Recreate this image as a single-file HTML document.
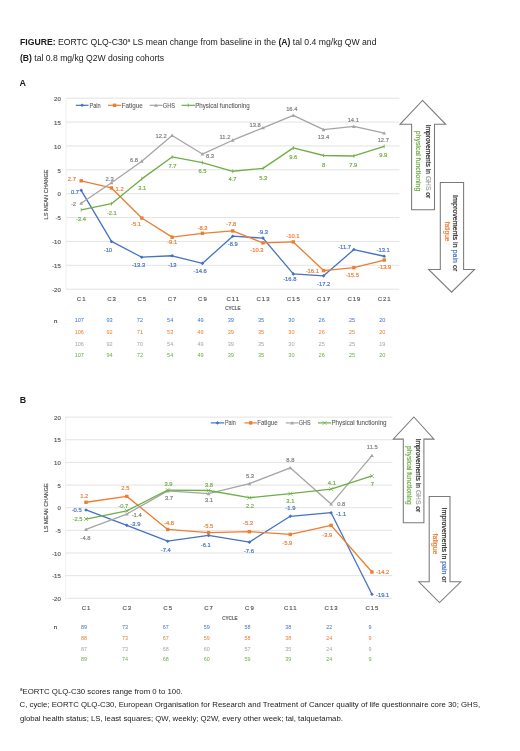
<!DOCTYPE html>
<html><head><meta charset="utf-8"><style>
html,body{margin:0;padding:0;background:#fff;}
body{width:520px;height:751px;overflow:hidden;position:relative;font-family:"Liberation Sans", sans-serif;}
svg{position:absolute;left:0;top:0;filter:blur(0.3px);}
svg text{font-family:"Liberation Sans", sans-serif;}
.t{position:absolute;left:20px;white-space:nowrap;color:#1a1a1a;font-family:"Liberation Sans", sans-serif;}
</style></head><body>
<svg width="520" height="751" viewBox="0 0 520 751">
<text x="20" y="45.4" font-size="8.7" fill="#1a1a1a" textLength="356.5" lengthAdjust="spacingAndGlyphs"><tspan font-weight="bold">FIGURE:</tspan> EORTC QLQ-C30<tspan font-size="5" dy="-3">a</tspan><tspan dy="3"> LS mean change from baseline in the </tspan><tspan font-weight="bold">(A)</tspan> tal 0.4 mg/kg QW and</text>
<text x="20" y="60.8" font-size="8.7" fill="#1a1a1a" textLength="144" lengthAdjust="spacingAndGlyphs"><tspan font-weight="bold">(B)</tspan> tal 0.8 mg/kg Q2W dosing cohorts</text>
<text x="19.5" y="86" font-size="8.9" font-weight="bold" fill="#1a1a1a">A</text>
<text x="19.7" y="402.8" font-size="8.9" font-weight="bold" fill="#1a1a1a">B</text>
<line x1="66.05" y1="289.20" x2="399.35" y2="289.20" stroke="#D9D9D9" stroke-width="0.75"/>
<text x="60.80" y="289.90" font-size="6.0" fill="#595959" stroke="#595959" stroke-width="0.18" text-anchor="end" font-weight="normal" dominant-baseline="central" >-20</text>
<line x1="66.05" y1="265.32" x2="399.35" y2="265.32" stroke="#D9D9D9" stroke-width="0.75"/>
<text x="60.80" y="266.02" font-size="6.0" fill="#595959" stroke="#595959" stroke-width="0.18" text-anchor="end" font-weight="normal" dominant-baseline="central" >-15</text>
<line x1="66.05" y1="241.45" x2="399.35" y2="241.45" stroke="#D9D9D9" stroke-width="0.75"/>
<text x="60.80" y="242.15" font-size="6.0" fill="#595959" stroke="#595959" stroke-width="0.18" text-anchor="end" font-weight="normal" dominant-baseline="central" >-10</text>
<line x1="66.05" y1="217.57" x2="399.35" y2="217.57" stroke="#D9D9D9" stroke-width="0.75"/>
<text x="60.80" y="218.27" font-size="6.0" fill="#595959" stroke="#595959" stroke-width="0.18" text-anchor="end" font-weight="normal" dominant-baseline="central" >-5</text>
<line x1="66.05" y1="193.70" x2="399.35" y2="193.70" stroke="#D9D9D9" stroke-width="0.75"/>
<text x="60.80" y="194.40" font-size="6.0" fill="#595959" stroke="#595959" stroke-width="0.18" text-anchor="end" font-weight="normal" dominant-baseline="central" >0</text>
<line x1="66.05" y1="169.82" x2="399.35" y2="169.82" stroke="#D9D9D9" stroke-width="0.75"/>
<text x="60.80" y="170.52" font-size="6.0" fill="#595959" stroke="#595959" stroke-width="0.18" text-anchor="end" font-weight="normal" dominant-baseline="central" >5</text>
<line x1="66.05" y1="145.95" x2="399.35" y2="145.95" stroke="#D9D9D9" stroke-width="0.75"/>
<text x="60.80" y="146.65" font-size="6.0" fill="#595959" stroke="#595959" stroke-width="0.18" text-anchor="end" font-weight="normal" dominant-baseline="central" >10</text>
<line x1="66.05" y1="122.07" x2="399.35" y2="122.07" stroke="#D9D9D9" stroke-width="0.75"/>
<text x="60.80" y="122.77" font-size="6.0" fill="#595959" stroke="#595959" stroke-width="0.18" text-anchor="end" font-weight="normal" dominant-baseline="central" >15</text>
<line x1="66.05" y1="98.20" x2="399.35" y2="98.20" stroke="#D9D9D9" stroke-width="0.75"/>
<text x="60.80" y="98.90" font-size="6.0" fill="#595959" stroke="#595959" stroke-width="0.18" text-anchor="end" font-weight="normal" dominant-baseline="central" >20</text>
<line x1="66.05" y1="98.20" x2="66.05" y2="289.20" stroke="#EBEBEB" stroke-width="0.75"/>
<text x="81.70" y="299.00" font-size="6.0" fill="#595959" stroke="#595959" stroke-width="0.18" text-anchor="middle" font-weight="normal" dominant-baseline="central" letter-spacing="1.0">C1</text>
<text x="112.00" y="299.00" font-size="6.0" fill="#595959" stroke="#595959" stroke-width="0.18" text-anchor="middle" font-weight="normal" dominant-baseline="central" letter-spacing="1.0">C3</text>
<text x="142.30" y="299.00" font-size="6.0" fill="#595959" stroke="#595959" stroke-width="0.18" text-anchor="middle" font-weight="normal" dominant-baseline="central" letter-spacing="1.0">C5</text>
<text x="172.60" y="299.00" font-size="6.0" fill="#595959" stroke="#595959" stroke-width="0.18" text-anchor="middle" font-weight="normal" dominant-baseline="central" letter-spacing="1.0">C7</text>
<text x="202.90" y="299.00" font-size="6.0" fill="#595959" stroke="#595959" stroke-width="0.18" text-anchor="middle" font-weight="normal" dominant-baseline="central" letter-spacing="1.0">C9</text>
<text x="233.20" y="299.00" font-size="6.0" fill="#595959" stroke="#595959" stroke-width="0.18" text-anchor="middle" font-weight="normal" dominant-baseline="central" letter-spacing="1.0">C11</text>
<text x="263.50" y="299.00" font-size="6.0" fill="#595959" stroke="#595959" stroke-width="0.18" text-anchor="middle" font-weight="normal" dominant-baseline="central" letter-spacing="1.0">C13</text>
<text x="293.80" y="299.00" font-size="6.0" fill="#595959" stroke="#595959" stroke-width="0.18" text-anchor="middle" font-weight="normal" dominant-baseline="central" letter-spacing="1.0">C15</text>
<text x="324.10" y="299.00" font-size="6.0" fill="#595959" stroke="#595959" stroke-width="0.18" text-anchor="middle" font-weight="normal" dominant-baseline="central" letter-spacing="1.0">C17</text>
<text x="354.40" y="299.00" font-size="6.0" fill="#595959" stroke="#595959" stroke-width="0.18" text-anchor="middle" font-weight="normal" dominant-baseline="central" letter-spacing="1.0">C19</text>
<text x="384.70" y="299.00" font-size="6.0" fill="#595959" stroke="#595959" stroke-width="0.18" text-anchor="middle" font-weight="normal" dominant-baseline="central" letter-spacing="1.0">C21</text>
<text x="232.80" y="308.80" font-size="4.6" fill="#595959" stroke="#595959" stroke-width="0.18" text-anchor="middle" font-weight="normal" dominant-baseline="central" >CYCLE</text>
<text x="0" y="0" font-size="6.2" fill="#595959" stroke="#595959" stroke-width="0.18" text-anchor="middle" dominant-baseline="central" textLength="50" lengthAdjust="spacingAndGlyphs" transform="translate(45.6,194.4) rotate(-90)">LS MEAN CHANGE</text>
<polyline points="81.20,190.36 111.50,241.45 141.80,257.21 172.10,255.77 202.40,263.41 232.70,236.20 263.00,238.11 293.30,273.92 323.60,275.83 353.90,249.57 384.20,256.25" fill="none" stroke="#4472C4" stroke-width="1.3" stroke-linejoin="round"/>
<path d="M81.20,188.56 L83.00,190.36 L81.20,192.16 L79.40,190.36Z" fill="#4472C4"/>
<path d="M111.50,239.65 L113.30,241.45 L111.50,243.25 L109.70,241.45Z" fill="#4472C4"/>
<path d="M141.80,255.41 L143.60,257.21 L141.80,259.01 L140.00,257.21Z" fill="#4472C4"/>
<path d="M172.10,253.97 L173.90,255.77 L172.10,257.57 L170.30,255.77Z" fill="#4472C4"/>
<path d="M202.40,261.61 L204.20,263.41 L202.40,265.21 L200.60,263.41Z" fill="#4472C4"/>
<path d="M232.70,234.40 L234.50,236.20 L232.70,238.00 L230.90,236.20Z" fill="#4472C4"/>
<path d="M263.00,236.31 L264.80,238.11 L263.00,239.91 L261.20,238.11Z" fill="#4472C4"/>
<path d="M293.30,272.12 L295.10,273.92 L293.30,275.72 L291.50,273.92Z" fill="#4472C4"/>
<path d="M323.60,274.03 L325.40,275.83 L323.60,277.63 L321.80,275.83Z" fill="#4472C4"/>
<path d="M353.90,247.77 L355.70,249.57 L353.90,251.37 L352.10,249.57Z" fill="#4472C4"/>
<path d="M384.20,254.45 L386.00,256.25 L384.20,258.05 L382.40,256.25Z" fill="#4472C4"/>
<text x="75.00" y="191.50" font-size="5.8" fill="#4472C4" stroke="#4472C4" stroke-width="0.18" text-anchor="middle" font-weight="normal" dominant-baseline="central" >0.7</text>
<text x="107.90" y="249.50" font-size="5.8" fill="#4472C4" stroke="#4472C4" stroke-width="0.18" text-anchor="middle" font-weight="normal" dominant-baseline="central" >-10</text>
<text x="138.50" y="265.40" font-size="5.8" fill="#4472C4" stroke="#4472C4" stroke-width="0.18" text-anchor="middle" font-weight="normal" dominant-baseline="central" >-13.3</text>
<text x="172.20" y="264.50" font-size="5.8" fill="#4472C4" stroke="#4472C4" stroke-width="0.18" text-anchor="middle" font-weight="normal" dominant-baseline="central" >-13</text>
<text x="200.20" y="271.20" font-size="5.8" fill="#4472C4" stroke="#4472C4" stroke-width="0.18" text-anchor="middle" font-weight="normal" dominant-baseline="central" >-14.6</text>
<text x="232.80" y="244.30" font-size="5.8" fill="#4472C4" stroke="#4472C4" stroke-width="0.18" text-anchor="middle" font-weight="normal" dominant-baseline="central" >-8.9</text>
<text x="263.10" y="232.00" font-size="5.8" fill="#4472C4" stroke="#4472C4" stroke-width="0.18" text-anchor="middle" font-weight="normal" dominant-baseline="central" >-9.3</text>
<text x="289.80" y="278.80" font-size="5.8" fill="#4472C4" stroke="#4472C4" stroke-width="0.18" text-anchor="middle" font-weight="normal" dominant-baseline="central" >-16.8</text>
<text x="323.70" y="283.70" font-size="5.8" fill="#4472C4" stroke="#4472C4" stroke-width="0.18" text-anchor="middle" font-weight="normal" dominant-baseline="central" >-17.2</text>
<text x="344.60" y="247.40" font-size="5.8" fill="#4472C4" stroke="#4472C4" stroke-width="0.18" text-anchor="middle" font-weight="normal" dominant-baseline="central" >-11.7</text>
<text x="383.10" y="249.90" font-size="5.8" fill="#4472C4" stroke="#4472C4" stroke-width="0.18" text-anchor="middle" font-weight="normal" dominant-baseline="central" >-13.1</text>
<polyline points="81.20,180.81 111.50,187.97 141.80,218.05 172.10,237.15 202.40,233.33 232.70,230.94 263.00,242.88 293.30,241.93 323.60,270.58 353.90,267.71 384.20,260.07" fill="none" stroke="#ED7D31" stroke-width="1.3" stroke-linejoin="round"/>
<rect x="79.50" y="179.11" width="3.4" height="3.4" fill="#ED7D31"/>
<rect x="109.80" y="186.27" width="3.4" height="3.4" fill="#ED7D31"/>
<rect x="140.10" y="216.35" width="3.4" height="3.4" fill="#ED7D31"/>
<rect x="170.40" y="235.45" width="3.4" height="3.4" fill="#ED7D31"/>
<rect x="200.70" y="231.63" width="3.4" height="3.4" fill="#ED7D31"/>
<rect x="231.00" y="229.25" width="3.4" height="3.4" fill="#ED7D31"/>
<rect x="261.30" y="241.18" width="3.4" height="3.4" fill="#ED7D31"/>
<rect x="291.60" y="240.23" width="3.4" height="3.4" fill="#ED7D31"/>
<rect x="321.90" y="268.88" width="3.4" height="3.4" fill="#ED7D31"/>
<rect x="352.20" y="266.01" width="3.4" height="3.4" fill="#ED7D31"/>
<rect x="382.50" y="258.37" width="3.4" height="3.4" fill="#ED7D31"/>
<text x="71.90" y="178.80" font-size="5.8" fill="#ED7D31" stroke="#ED7D31" stroke-width="0.18" text-anchor="middle" font-weight="normal" dominant-baseline="central" >2.7</text>
<text x="119.60" y="189.00" font-size="5.8" fill="#ED7D31" stroke="#ED7D31" stroke-width="0.18" text-anchor="middle" font-weight="normal" dominant-baseline="central" >1.2</text>
<text x="136.10" y="223.50" font-size="5.8" fill="#ED7D31" stroke="#ED7D31" stroke-width="0.18" text-anchor="middle" font-weight="normal" dominant-baseline="central" >-5.1</text>
<text x="172.20" y="242.30" font-size="5.8" fill="#ED7D31" stroke="#ED7D31" stroke-width="0.18" text-anchor="middle" font-weight="normal" dominant-baseline="central" >-9.1</text>
<text x="202.50" y="227.90" font-size="5.8" fill="#ED7D31" stroke="#ED7D31" stroke-width="0.18" text-anchor="middle" font-weight="normal" dominant-baseline="central" >-8.3</text>
<text x="231.30" y="224.20" font-size="5.8" fill="#ED7D31" stroke="#ED7D31" stroke-width="0.18" text-anchor="middle" font-weight="normal" dominant-baseline="central" >-7.8</text>
<text x="256.90" y="249.90" font-size="5.8" fill="#ED7D31" stroke="#ED7D31" stroke-width="0.18" text-anchor="middle" font-weight="normal" dominant-baseline="central" >-10.3</text>
<text x="292.90" y="235.70" font-size="5.8" fill="#ED7D31" stroke="#ED7D31" stroke-width="0.18" text-anchor="middle" font-weight="normal" dominant-baseline="central" >-10.1</text>
<text x="312.30" y="271.10" font-size="5.8" fill="#ED7D31" stroke="#ED7D31" stroke-width="0.18" text-anchor="middle" font-weight="normal" dominant-baseline="central" >-16.1</text>
<text x="352.30" y="275.10" font-size="5.8" fill="#ED7D31" stroke="#ED7D31" stroke-width="0.18" text-anchor="middle" font-weight="normal" dominant-baseline="central" >-15.5</text>
<text x="384.60" y="267.40" font-size="5.8" fill="#ED7D31" stroke="#ED7D31" stroke-width="0.18" text-anchor="middle" font-weight="normal" dominant-baseline="central" >-13.9</text>
<polyline points="81.20,203.25 111.50,182.72 141.80,161.23 172.10,135.44 202.40,154.07 232.70,140.22 263.00,127.80 293.30,115.39 323.60,129.71 353.90,126.37 384.20,133.06" fill="none" stroke="#A5A5A5" stroke-width="1.3" stroke-linejoin="round"/>
<path d="M81.20,201.35 L83.10,204.77 L79.30,204.77Z" fill="#A5A5A5"/>
<path d="M111.50,180.82 L113.40,184.24 L109.60,184.24Z" fill="#A5A5A5"/>
<path d="M141.80,159.33 L143.70,162.75 L139.90,162.75Z" fill="#A5A5A5"/>
<path d="M172.10,133.54 L174.00,136.97 L170.20,136.97Z" fill="#A5A5A5"/>
<path d="M202.40,152.17 L204.30,155.59 L200.50,155.59Z" fill="#A5A5A5"/>
<path d="M232.70,138.32 L234.60,141.74 L230.80,141.74Z" fill="#A5A5A5"/>
<path d="M263.00,125.90 L264.90,129.32 L261.10,129.32Z" fill="#A5A5A5"/>
<path d="M293.30,113.49 L295.20,116.91 L291.40,116.91Z" fill="#A5A5A5"/>
<path d="M323.60,127.81 L325.50,131.23 L321.70,131.23Z" fill="#A5A5A5"/>
<path d="M353.90,124.47 L355.80,127.89 L352.00,127.89Z" fill="#A5A5A5"/>
<path d="M384.20,131.16 L386.10,134.58 L382.30,134.58Z" fill="#A5A5A5"/>
<text x="73.50" y="204.00" font-size="5.8" fill="#7F7F7F" stroke="#7F7F7F" stroke-width="0.18" text-anchor="middle" font-weight="normal" dominant-baseline="central" >-2</text>
<text x="109.60" y="178.80" font-size="5.8" fill="#7F7F7F" stroke="#7F7F7F" stroke-width="0.18" text-anchor="middle" font-weight="normal" dominant-baseline="central" >2.3</text>
<text x="134.00" y="159.50" font-size="5.8" fill="#7F7F7F" stroke="#7F7F7F" stroke-width="0.18" text-anchor="middle" font-weight="normal" dominant-baseline="central" >6.8</text>
<text x="161.20" y="136.00" font-size="5.8" fill="#7F7F7F" stroke="#7F7F7F" stroke-width="0.18" text-anchor="middle" font-weight="normal" dominant-baseline="central" >12.2</text>
<text x="210.00" y="156.20" font-size="5.8" fill="#7F7F7F" stroke="#7F7F7F" stroke-width="0.18" text-anchor="middle" font-weight="normal" dominant-baseline="central" >8.3</text>
<text x="225.00" y="136.70" font-size="5.8" fill="#7F7F7F" stroke="#7F7F7F" stroke-width="0.18" text-anchor="middle" font-weight="normal" dominant-baseline="central" >11.2</text>
<text x="255.20" y="125.00" font-size="5.8" fill="#7F7F7F" stroke="#7F7F7F" stroke-width="0.18" text-anchor="middle" font-weight="normal" dominant-baseline="central" >13.8</text>
<text x="291.80" y="108.60" font-size="5.8" fill="#7F7F7F" stroke="#7F7F7F" stroke-width="0.18" text-anchor="middle" font-weight="normal" dominant-baseline="central" >16.4</text>
<text x="323.50" y="137.40" font-size="5.8" fill="#7F7F7F" stroke="#7F7F7F" stroke-width="0.18" text-anchor="middle" font-weight="normal" dominant-baseline="central" >13.4</text>
<text x="353.30" y="119.50" font-size="5.8" fill="#7F7F7F" stroke="#7F7F7F" stroke-width="0.18" text-anchor="middle" font-weight="normal" dominant-baseline="central" >14.1</text>
<text x="383.30" y="140.30" font-size="5.8" fill="#7F7F7F" stroke="#7F7F7F" stroke-width="0.18" text-anchor="middle" font-weight="normal" dominant-baseline="central" >12.7</text>
<polyline points="81.20,209.94 111.50,203.73 141.80,178.90 172.10,156.93 202.40,162.66 232.70,171.26 263.00,168.39 293.30,147.86 323.60,155.50 353.90,155.98 384.20,146.43" fill="none" stroke="#70AD47" stroke-width="1.3" stroke-linejoin="round"/>
<path d="M81.20,208.13 V211.74" stroke="#70AD47" stroke-width="0.8"/>
<path d="M111.50,201.93 V205.53" stroke="#70AD47" stroke-width="0.8"/>
<path d="M141.80,177.10 V180.70" stroke="#70AD47" stroke-width="0.8"/>
<path d="M172.10,155.13 V158.73" stroke="#70AD47" stroke-width="0.8"/>
<path d="M202.40,160.86 V164.46" stroke="#70AD47" stroke-width="0.8"/>
<path d="M232.70,169.46 V173.06" stroke="#70AD47" stroke-width="0.8"/>
<path d="M263.00,166.59 V170.19" stroke="#70AD47" stroke-width="0.8"/>
<path d="M293.30,146.06 V149.66" stroke="#70AD47" stroke-width="0.8"/>
<path d="M323.60,153.70 V157.30" stroke="#70AD47" stroke-width="0.8"/>
<path d="M353.90,154.18 V157.78" stroke="#70AD47" stroke-width="0.8"/>
<path d="M384.20,144.63 V148.23" stroke="#70AD47" stroke-width="0.8"/>
<text x="80.90" y="219.00" font-size="5.8" fill="#70AD47" stroke="#70AD47" stroke-width="0.18" text-anchor="middle" font-weight="normal" dominant-baseline="central" >-3.4</text>
<text x="111.80" y="213.10" font-size="5.8" fill="#70AD47" stroke="#70AD47" stroke-width="0.18" text-anchor="middle" font-weight="normal" dominant-baseline="central" >-2.1</text>
<text x="142.30" y="188.40" font-size="5.8" fill="#70AD47" stroke="#70AD47" stroke-width="0.18" text-anchor="middle" font-weight="normal" dominant-baseline="central" >3.1</text>
<text x="172.50" y="166.00" font-size="5.8" fill="#70AD47" stroke="#70AD47" stroke-width="0.18" text-anchor="middle" font-weight="normal" dominant-baseline="central" >7.7</text>
<text x="202.50" y="171.20" font-size="5.8" fill="#70AD47" stroke="#70AD47" stroke-width="0.18" text-anchor="middle" font-weight="normal" dominant-baseline="central" >6.5</text>
<text x="232.50" y="179.20" font-size="5.8" fill="#70AD47" stroke="#70AD47" stroke-width="0.18" text-anchor="middle" font-weight="normal" dominant-baseline="central" >4.7</text>
<text x="263.20" y="177.50" font-size="5.8" fill="#70AD47" stroke="#70AD47" stroke-width="0.18" text-anchor="middle" font-weight="normal" dominant-baseline="central" >5.3</text>
<text x="293.30" y="157.00" font-size="5.8" fill="#70AD47" stroke="#70AD47" stroke-width="0.18" text-anchor="middle" font-weight="normal" dominant-baseline="central" >9.6</text>
<text x="323.50" y="164.50" font-size="5.8" fill="#70AD47" stroke="#70AD47" stroke-width="0.18" text-anchor="middle" font-weight="normal" dominant-baseline="central" >8</text>
<text x="353.30" y="164.50" font-size="5.8" fill="#70AD47" stroke="#70AD47" stroke-width="0.18" text-anchor="middle" font-weight="normal" dominant-baseline="central" >7.9</text>
<text x="383.30" y="155.30" font-size="5.8" fill="#70AD47" stroke="#70AD47" stroke-width="0.18" text-anchor="middle" font-weight="normal" dominant-baseline="central" >9.9</text>
<line x1="75.8" y1="105.3" x2="88.5" y2="105.3" stroke="#4472C4" stroke-width="1.2"/>
<path d="M82.15,103.50 L83.95,105.30 L82.15,107.10 L80.35,105.30Z" fill="#4472C4"/>
<text x="89.4" y="105.3" font-size="6.6" fill="#595959" stroke="#595959" stroke-width="0.08" dominant-baseline="central" textLength="11.3" lengthAdjust="spacingAndGlyphs">Pain</text>
<line x1="108" y1="105.3" x2="121.3" y2="105.3" stroke="#ED7D31" stroke-width="1.2"/>
<rect x="112.95" y="103.60" width="3.4" height="3.4" fill="#ED7D31"/>
<text x="121.7" y="105.3" font-size="6.6" fill="#595959" stroke="#595959" stroke-width="0.08" dominant-baseline="central" textLength="21.0" lengthAdjust="spacingAndGlyphs">Fatigue</text>
<line x1="149.7" y1="105.3" x2="162.4" y2="105.3" stroke="#A5A5A5" stroke-width="1.2"/>
<path d="M156.05,103.40 L157.95,106.82 L154.15,106.82Z" fill="#A5A5A5"/>
<text x="162.8" y="105.3" font-size="6.6" fill="#595959" stroke="#595959" stroke-width="0.08" dominant-baseline="central" textLength="12.2" lengthAdjust="spacingAndGlyphs">GHS</text>
<line x1="181.5" y1="105.3" x2="195" y2="105.3" stroke="#70AD47" stroke-width="1.2"/>
<path d="M188.25,103.50 V107.10" stroke="#70AD47" stroke-width="0.8"/>
<text x="195.2" y="105.3" font-size="6.6" fill="#595959" stroke="#595959" stroke-width="0.08" dominant-baseline="central" textLength="54.5" lengthAdjust="spacingAndGlyphs">Physical functioning</text>
<text x="55.80" y="320.20" font-size="6.1" fill="#404040" stroke="#404040" stroke-width="0.18" text-anchor="middle" font-weight="normal" dominant-baseline="central" >n</text>
<text x="79.30" y="320.20" font-size="5.6" fill="#4472C4" stroke="#4472C4" stroke-width="0" text-anchor="middle" font-weight="normal" dominant-baseline="central" >107</text>
<text x="109.60" y="320.20" font-size="5.6" fill="#4472C4" stroke="#4472C4" stroke-width="0" text-anchor="middle" font-weight="normal" dominant-baseline="central" >93</text>
<text x="139.90" y="320.20" font-size="5.6" fill="#4472C4" stroke="#4472C4" stroke-width="0" text-anchor="middle" font-weight="normal" dominant-baseline="central" >72</text>
<text x="170.20" y="320.20" font-size="5.6" fill="#4472C4" stroke="#4472C4" stroke-width="0" text-anchor="middle" font-weight="normal" dominant-baseline="central" >54</text>
<text x="200.50" y="320.20" font-size="5.6" fill="#4472C4" stroke="#4472C4" stroke-width="0" text-anchor="middle" font-weight="normal" dominant-baseline="central" >49</text>
<text x="230.80" y="320.20" font-size="5.6" fill="#4472C4" stroke="#4472C4" stroke-width="0" text-anchor="middle" font-weight="normal" dominant-baseline="central" >39</text>
<text x="261.10" y="320.20" font-size="5.6" fill="#4472C4" stroke="#4472C4" stroke-width="0" text-anchor="middle" font-weight="normal" dominant-baseline="central" >35</text>
<text x="291.40" y="320.20" font-size="5.6" fill="#4472C4" stroke="#4472C4" stroke-width="0" text-anchor="middle" font-weight="normal" dominant-baseline="central" >30</text>
<text x="321.70" y="320.20" font-size="5.6" fill="#4472C4" stroke="#4472C4" stroke-width="0" text-anchor="middle" font-weight="normal" dominant-baseline="central" >26</text>
<text x="352.00" y="320.20" font-size="5.6" fill="#4472C4" stroke="#4472C4" stroke-width="0" text-anchor="middle" font-weight="normal" dominant-baseline="central" >25</text>
<text x="382.30" y="320.20" font-size="5.6" fill="#4472C4" stroke="#4472C4" stroke-width="0" text-anchor="middle" font-weight="normal" dominant-baseline="central" >20</text>
<text x="79.30" y="331.80" font-size="5.6" fill="#ED7D31" stroke="#ED7D31" stroke-width="0" text-anchor="middle" font-weight="normal" dominant-baseline="central" >106</text>
<text x="109.60" y="331.80" font-size="5.6" fill="#ED7D31" stroke="#ED7D31" stroke-width="0" text-anchor="middle" font-weight="normal" dominant-baseline="central" >92</text>
<text x="139.90" y="331.80" font-size="5.6" fill="#ED7D31" stroke="#ED7D31" stroke-width="0" text-anchor="middle" font-weight="normal" dominant-baseline="central" >71</text>
<text x="170.20" y="331.80" font-size="5.6" fill="#ED7D31" stroke="#ED7D31" stroke-width="0" text-anchor="middle" font-weight="normal" dominant-baseline="central" >53</text>
<text x="200.50" y="331.80" font-size="5.6" fill="#ED7D31" stroke="#ED7D31" stroke-width="0" text-anchor="middle" font-weight="normal" dominant-baseline="central" >49</text>
<text x="230.80" y="331.80" font-size="5.6" fill="#ED7D31" stroke="#ED7D31" stroke-width="0" text-anchor="middle" font-weight="normal" dominant-baseline="central" >39</text>
<text x="261.10" y="331.80" font-size="5.6" fill="#ED7D31" stroke="#ED7D31" stroke-width="0" text-anchor="middle" font-weight="normal" dominant-baseline="central" >35</text>
<text x="291.40" y="331.80" font-size="5.6" fill="#ED7D31" stroke="#ED7D31" stroke-width="0" text-anchor="middle" font-weight="normal" dominant-baseline="central" >30</text>
<text x="321.70" y="331.80" font-size="5.6" fill="#ED7D31" stroke="#ED7D31" stroke-width="0" text-anchor="middle" font-weight="normal" dominant-baseline="central" >26</text>
<text x="352.00" y="331.80" font-size="5.6" fill="#ED7D31" stroke="#ED7D31" stroke-width="0" text-anchor="middle" font-weight="normal" dominant-baseline="central" >25</text>
<text x="382.30" y="331.80" font-size="5.6" fill="#ED7D31" stroke="#ED7D31" stroke-width="0" text-anchor="middle" font-weight="normal" dominant-baseline="central" >20</text>
<text x="79.30" y="343.50" font-size="5.6" fill="#A5A5A5" stroke="#A5A5A5" stroke-width="0" text-anchor="middle" font-weight="normal" dominant-baseline="central" >106</text>
<text x="109.60" y="343.50" font-size="5.6" fill="#A5A5A5" stroke="#A5A5A5" stroke-width="0" text-anchor="middle" font-weight="normal" dominant-baseline="central" >92</text>
<text x="139.90" y="343.50" font-size="5.6" fill="#A5A5A5" stroke="#A5A5A5" stroke-width="0" text-anchor="middle" font-weight="normal" dominant-baseline="central" >70</text>
<text x="170.20" y="343.50" font-size="5.6" fill="#A5A5A5" stroke="#A5A5A5" stroke-width="0" text-anchor="middle" font-weight="normal" dominant-baseline="central" >54</text>
<text x="200.50" y="343.50" font-size="5.6" fill="#A5A5A5" stroke="#A5A5A5" stroke-width="0" text-anchor="middle" font-weight="normal" dominant-baseline="central" >49</text>
<text x="230.80" y="343.50" font-size="5.6" fill="#A5A5A5" stroke="#A5A5A5" stroke-width="0" text-anchor="middle" font-weight="normal" dominant-baseline="central" >39</text>
<text x="261.10" y="343.50" font-size="5.6" fill="#A5A5A5" stroke="#A5A5A5" stroke-width="0" text-anchor="middle" font-weight="normal" dominant-baseline="central" >35</text>
<text x="291.40" y="343.50" font-size="5.6" fill="#A5A5A5" stroke="#A5A5A5" stroke-width="0" text-anchor="middle" font-weight="normal" dominant-baseline="central" >30</text>
<text x="321.70" y="343.50" font-size="5.6" fill="#A5A5A5" stroke="#A5A5A5" stroke-width="0" text-anchor="middle" font-weight="normal" dominant-baseline="central" >25</text>
<text x="352.00" y="343.50" font-size="5.6" fill="#A5A5A5" stroke="#A5A5A5" stroke-width="0" text-anchor="middle" font-weight="normal" dominant-baseline="central" >25</text>
<text x="382.30" y="343.50" font-size="5.6" fill="#A5A5A5" stroke="#A5A5A5" stroke-width="0" text-anchor="middle" font-weight="normal" dominant-baseline="central" >19</text>
<text x="79.30" y="355.10" font-size="5.6" fill="#70AD47" stroke="#70AD47" stroke-width="0" text-anchor="middle" font-weight="normal" dominant-baseline="central" >107</text>
<text x="109.60" y="355.10" font-size="5.6" fill="#70AD47" stroke="#70AD47" stroke-width="0" text-anchor="middle" font-weight="normal" dominant-baseline="central" >94</text>
<text x="139.90" y="355.10" font-size="5.6" fill="#70AD47" stroke="#70AD47" stroke-width="0" text-anchor="middle" font-weight="normal" dominant-baseline="central" >72</text>
<text x="170.20" y="355.10" font-size="5.6" fill="#70AD47" stroke="#70AD47" stroke-width="0" text-anchor="middle" font-weight="normal" dominant-baseline="central" >54</text>
<text x="200.50" y="355.10" font-size="5.6" fill="#70AD47" stroke="#70AD47" stroke-width="0" text-anchor="middle" font-weight="normal" dominant-baseline="central" >49</text>
<text x="230.80" y="355.10" font-size="5.6" fill="#70AD47" stroke="#70AD47" stroke-width="0" text-anchor="middle" font-weight="normal" dominant-baseline="central" >39</text>
<text x="261.10" y="355.10" font-size="5.6" fill="#70AD47" stroke="#70AD47" stroke-width="0" text-anchor="middle" font-weight="normal" dominant-baseline="central" >35</text>
<text x="291.40" y="355.10" font-size="5.6" fill="#70AD47" stroke="#70AD47" stroke-width="0" text-anchor="middle" font-weight="normal" dominant-baseline="central" >30</text>
<text x="321.70" y="355.10" font-size="5.6" fill="#70AD47" stroke="#70AD47" stroke-width="0" text-anchor="middle" font-weight="normal" dominant-baseline="central" >26</text>
<text x="352.00" y="355.10" font-size="5.6" fill="#70AD47" stroke="#70AD47" stroke-width="0" text-anchor="middle" font-weight="normal" dominant-baseline="central" >25</text>
<text x="382.30" y="355.10" font-size="5.6" fill="#70AD47" stroke="#70AD47" stroke-width="0" text-anchor="middle" font-weight="normal" dominant-baseline="central" >20</text>
<line x1="65.58" y1="598.30" x2="392.38" y2="598.30" stroke="#D9D9D9" stroke-width="0.75"/>
<text x="60.80" y="599.00" font-size="6.0" fill="#595959" stroke="#595959" stroke-width="0.18" text-anchor="end" font-weight="normal" dominant-baseline="central" >-20</text>
<line x1="65.58" y1="575.65" x2="392.38" y2="575.65" stroke="#D9D9D9" stroke-width="0.75"/>
<text x="60.80" y="576.35" font-size="6.0" fill="#595959" stroke="#595959" stroke-width="0.18" text-anchor="end" font-weight="normal" dominant-baseline="central" >-15</text>
<line x1="65.58" y1="553.00" x2="392.38" y2="553.00" stroke="#D9D9D9" stroke-width="0.75"/>
<text x="60.80" y="553.70" font-size="6.0" fill="#595959" stroke="#595959" stroke-width="0.18" text-anchor="end" font-weight="normal" dominant-baseline="central" >-10</text>
<line x1="65.58" y1="530.35" x2="392.38" y2="530.35" stroke="#D9D9D9" stroke-width="0.75"/>
<text x="60.80" y="531.05" font-size="6.0" fill="#595959" stroke="#595959" stroke-width="0.18" text-anchor="end" font-weight="normal" dominant-baseline="central" >-5</text>
<line x1="65.58" y1="507.70" x2="392.38" y2="507.70" stroke="#D9D9D9" stroke-width="0.75"/>
<text x="60.80" y="508.40" font-size="6.0" fill="#595959" stroke="#595959" stroke-width="0.18" text-anchor="end" font-weight="normal" dominant-baseline="central" >0</text>
<line x1="65.58" y1="485.05" x2="392.38" y2="485.05" stroke="#D9D9D9" stroke-width="0.75"/>
<text x="60.80" y="485.75" font-size="6.0" fill="#595959" stroke="#595959" stroke-width="0.18" text-anchor="end" font-weight="normal" dominant-baseline="central" >5</text>
<line x1="65.58" y1="462.40" x2="392.38" y2="462.40" stroke="#D9D9D9" stroke-width="0.75"/>
<text x="60.80" y="463.10" font-size="6.0" fill="#595959" stroke="#595959" stroke-width="0.18" text-anchor="end" font-weight="normal" dominant-baseline="central" >10</text>
<line x1="65.58" y1="439.75" x2="392.38" y2="439.75" stroke="#D9D9D9" stroke-width="0.75"/>
<text x="60.80" y="440.45" font-size="6.0" fill="#595959" stroke="#595959" stroke-width="0.18" text-anchor="end" font-weight="normal" dominant-baseline="central" >15</text>
<line x1="65.58" y1="417.10" x2="392.38" y2="417.10" stroke="#D9D9D9" stroke-width="0.75"/>
<text x="60.80" y="417.80" font-size="6.0" fill="#595959" stroke="#595959" stroke-width="0.18" text-anchor="end" font-weight="normal" dominant-baseline="central" >20</text>
<line x1="65.58" y1="417.10" x2="65.58" y2="598.30" stroke="#EBEBEB" stroke-width="0.75"/>
<text x="86.50" y="607.80" font-size="6.0" fill="#595959" stroke="#595959" stroke-width="0.18" text-anchor="middle" font-weight="normal" dominant-baseline="central" letter-spacing="1.0">C1</text>
<text x="127.35" y="607.80" font-size="6.0" fill="#595959" stroke="#595959" stroke-width="0.18" text-anchor="middle" font-weight="normal" dominant-baseline="central" letter-spacing="1.0">C3</text>
<text x="168.20" y="607.80" font-size="6.0" fill="#595959" stroke="#595959" stroke-width="0.18" text-anchor="middle" font-weight="normal" dominant-baseline="central" letter-spacing="1.0">C5</text>
<text x="209.05" y="607.80" font-size="6.0" fill="#595959" stroke="#595959" stroke-width="0.18" text-anchor="middle" font-weight="normal" dominant-baseline="central" letter-spacing="1.0">C7</text>
<text x="249.90" y="607.80" font-size="6.0" fill="#595959" stroke="#595959" stroke-width="0.18" text-anchor="middle" font-weight="normal" dominant-baseline="central" letter-spacing="1.0">C9</text>
<text x="290.75" y="607.80" font-size="6.0" fill="#595959" stroke="#595959" stroke-width="0.18" text-anchor="middle" font-weight="normal" dominant-baseline="central" letter-spacing="1.0">C11</text>
<text x="331.60" y="607.80" font-size="6.0" fill="#595959" stroke="#595959" stroke-width="0.18" text-anchor="middle" font-weight="normal" dominant-baseline="central" letter-spacing="1.0">C13</text>
<text x="372.45" y="607.80" font-size="6.0" fill="#595959" stroke="#595959" stroke-width="0.18" text-anchor="middle" font-weight="normal" dominant-baseline="central" letter-spacing="1.0">C15</text>
<text x="229.90" y="618.40" font-size="4.6" fill="#595959" stroke="#595959" stroke-width="0.18" text-anchor="middle" font-weight="normal" dominant-baseline="central" >CYCLE</text>
<text x="0" y="0" font-size="6.2" fill="#595959" stroke="#595959" stroke-width="0.18" text-anchor="middle" dominant-baseline="central" textLength="49" lengthAdjust="spacingAndGlyphs" transform="translate(45.3,507.8) rotate(-90)">LS MEAN CHANGE</text>
<polyline points="86.00,509.96 126.85,525.37 167.70,541.22 208.55,535.33 249.40,542.13 290.25,516.31 331.10,512.68 371.95,594.22" fill="none" stroke="#4472C4" stroke-width="1.3" stroke-linejoin="round"/>
<path d="M86.00,508.16 L87.80,509.96 L86.00,511.76 L84.20,509.96Z" fill="#4472C4"/>
<path d="M126.85,523.57 L128.65,525.37 L126.85,527.17 L125.05,525.37Z" fill="#4472C4"/>
<path d="M167.70,539.42 L169.50,541.22 L167.70,543.02 L165.90,541.22Z" fill="#4472C4"/>
<path d="M208.55,533.53 L210.35,535.33 L208.55,537.13 L206.75,535.33Z" fill="#4472C4"/>
<path d="M249.40,540.33 L251.20,542.13 L249.40,543.93 L247.60,542.13Z" fill="#4472C4"/>
<path d="M290.25,514.51 L292.05,516.31 L290.25,518.11 L288.45,516.31Z" fill="#4472C4"/>
<path d="M331.10,510.88 L332.90,512.68 L331.10,514.48 L329.30,512.68Z" fill="#4472C4"/>
<path d="M371.95,592.42 L373.75,594.22 L371.95,596.02 L370.15,594.22Z" fill="#4472C4"/>
<text x="76.70" y="509.50" font-size="5.8" fill="#4472C4" stroke="#4472C4" stroke-width="0.18" text-anchor="middle" font-weight="normal" dominant-baseline="central" >-0.5</text>
<text x="135.40" y="523.50" font-size="5.8" fill="#4472C4" stroke="#4472C4" stroke-width="0.18" text-anchor="middle" font-weight="normal" dominant-baseline="central" >-3.9</text>
<text x="165.80" y="550.00" font-size="5.8" fill="#4472C4" stroke="#4472C4" stroke-width="0.18" text-anchor="middle" font-weight="normal" dominant-baseline="central" >-7.4</text>
<text x="205.80" y="545.40" font-size="5.8" fill="#4472C4" stroke="#4472C4" stroke-width="0.18" text-anchor="middle" font-weight="normal" dominant-baseline="central" >-6.1</text>
<text x="248.90" y="550.80" font-size="5.8" fill="#4472C4" stroke="#4472C4" stroke-width="0.18" text-anchor="middle" font-weight="normal" dominant-baseline="central" >-7.6</text>
<text x="290.40" y="508.40" font-size="5.8" fill="#4472C4" stroke="#4472C4" stroke-width="0.18" text-anchor="middle" font-weight="normal" dominant-baseline="central" >-1.9</text>
<text x="341.20" y="513.90" font-size="5.8" fill="#4472C4" stroke="#4472C4" stroke-width="0.18" text-anchor="middle" font-weight="normal" dominant-baseline="central" >-1.1</text>
<text x="382.60" y="595.10" font-size="5.8" fill="#4472C4" stroke="#4472C4" stroke-width="0.18" text-anchor="middle" font-weight="normal" dominant-baseline="central" >-19.1</text>
<polyline points="86.00,502.26 126.85,496.38 167.70,529.44 208.55,532.62 249.40,531.71 290.25,534.43 331.10,525.37 371.95,572.03" fill="none" stroke="#ED7D31" stroke-width="1.3" stroke-linejoin="round"/>
<rect x="84.30" y="500.56" width="3.4" height="3.4" fill="#ED7D31"/>
<rect x="125.15" y="494.68" width="3.4" height="3.4" fill="#ED7D31"/>
<rect x="166.00" y="527.74" width="3.4" height="3.4" fill="#ED7D31"/>
<rect x="206.85" y="530.91" width="3.4" height="3.4" fill="#ED7D31"/>
<rect x="247.70" y="530.01" width="3.4" height="3.4" fill="#ED7D31"/>
<rect x="288.55" y="532.73" width="3.4" height="3.4" fill="#ED7D31"/>
<rect x="329.40" y="523.67" width="3.4" height="3.4" fill="#ED7D31"/>
<rect x="370.25" y="570.33" width="3.4" height="3.4" fill="#ED7D31"/>
<text x="84.20" y="495.80" font-size="5.8" fill="#ED7D31" stroke="#ED7D31" stroke-width="0.18" text-anchor="middle" font-weight="normal" dominant-baseline="central" >1.2</text>
<text x="125.40" y="488.00" font-size="5.8" fill="#ED7D31" stroke="#ED7D31" stroke-width="0.18" text-anchor="middle" font-weight="normal" dominant-baseline="central" >2.5</text>
<text x="169.00" y="523.00" font-size="5.8" fill="#ED7D31" stroke="#ED7D31" stroke-width="0.18" text-anchor="middle" font-weight="normal" dominant-baseline="central" >-4.8</text>
<text x="208.30" y="525.70" font-size="5.8" fill="#ED7D31" stroke="#ED7D31" stroke-width="0.18" text-anchor="middle" font-weight="normal" dominant-baseline="central" >-5.5</text>
<text x="248.00" y="523.30" font-size="5.8" fill="#ED7D31" stroke="#ED7D31" stroke-width="0.18" text-anchor="middle" font-weight="normal" dominant-baseline="central" >-5.3</text>
<text x="287.30" y="542.80" font-size="5.8" fill="#ED7D31" stroke="#ED7D31" stroke-width="0.18" text-anchor="middle" font-weight="normal" dominant-baseline="central" >-5.9</text>
<text x="327.30" y="535.10" font-size="5.8" fill="#ED7D31" stroke="#ED7D31" stroke-width="0.18" text-anchor="middle" font-weight="normal" dominant-baseline="central" >-3.9</text>
<text x="382.60" y="572.00" font-size="5.8" fill="#ED7D31" stroke="#ED7D31" stroke-width="0.18" text-anchor="middle" font-weight="normal" dominant-baseline="central" >-14.2</text>
<polyline points="86.00,529.44 126.85,514.04 167.70,490.94 208.55,493.66 249.40,483.69 290.25,467.84 331.10,504.08 371.95,455.60" fill="none" stroke="#A5A5A5" stroke-width="1.3" stroke-linejoin="round"/>
<path d="M86.00,527.54 L87.90,530.96 L84.10,530.96Z" fill="#A5A5A5"/>
<path d="M126.85,512.14 L128.75,515.56 L124.95,515.56Z" fill="#A5A5A5"/>
<path d="M167.70,489.04 L169.60,492.46 L165.80,492.46Z" fill="#A5A5A5"/>
<path d="M208.55,491.76 L210.45,495.18 L206.65,495.18Z" fill="#A5A5A5"/>
<path d="M249.40,481.79 L251.30,485.21 L247.50,485.21Z" fill="#A5A5A5"/>
<path d="M290.25,465.94 L292.15,469.36 L288.35,469.36Z" fill="#A5A5A5"/>
<path d="M331.10,502.18 L333.00,505.60 L329.20,505.60Z" fill="#A5A5A5"/>
<path d="M371.95,453.70 L373.85,457.12 L370.05,457.12Z" fill="#A5A5A5"/>
<text x="85.60" y="538.40" font-size="5.8" fill="#7F7F7F" stroke="#7F7F7F" stroke-width="0.18" text-anchor="middle" font-weight="normal" dominant-baseline="central" >-4.8</text>
<text x="136.70" y="515.00" font-size="5.8" fill="#7F7F7F" stroke="#7F7F7F" stroke-width="0.18" text-anchor="middle" font-weight="normal" dominant-baseline="central" >-1.4</text>
<text x="169.00" y="498.00" font-size="5.8" fill="#7F7F7F" stroke="#7F7F7F" stroke-width="0.18" text-anchor="middle" font-weight="normal" dominant-baseline="central" >3.7</text>
<text x="209.00" y="500.30" font-size="5.8" fill="#7F7F7F" stroke="#7F7F7F" stroke-width="0.18" text-anchor="middle" font-weight="normal" dominant-baseline="central" >3.1</text>
<text x="250.00" y="476.10" font-size="5.8" fill="#7F7F7F" stroke="#7F7F7F" stroke-width="0.18" text-anchor="middle" font-weight="normal" dominant-baseline="central" >5.3</text>
<text x="290.40" y="459.90" font-size="5.8" fill="#7F7F7F" stroke="#7F7F7F" stroke-width="0.18" text-anchor="middle" font-weight="normal" dominant-baseline="central" >8.8</text>
<text x="341.20" y="504.00" font-size="5.8" fill="#7F7F7F" stroke="#7F7F7F" stroke-width="0.18" text-anchor="middle" font-weight="normal" dominant-baseline="central" >0.8</text>
<text x="372.30" y="447.00" font-size="5.8" fill="#7F7F7F" stroke="#7F7F7F" stroke-width="0.18" text-anchor="middle" font-weight="normal" dominant-baseline="central" >11.5</text>
<polyline points="86.00,519.02 126.85,510.87 167.70,490.03 208.55,490.49 249.40,497.73 290.25,493.66 331.10,489.13 371.95,475.99" fill="none" stroke="#70AD47" stroke-width="1.3" stroke-linejoin="round"/>
<path d="M84.00,517.02 L88.00,521.02 M88.00,517.02 L84.00,521.02" stroke="#70AD47" stroke-width="0.7" fill="none"/>
<path d="M124.85,508.87 L128.85,512.87 M128.85,508.87 L124.85,512.87" stroke="#70AD47" stroke-width="0.7" fill="none"/>
<path d="M165.70,488.03 L169.70,492.03 M169.70,488.03 L165.70,492.03" stroke="#70AD47" stroke-width="0.7" fill="none"/>
<path d="M206.55,488.49 L210.55,492.49 M210.55,488.49 L206.55,492.49" stroke="#70AD47" stroke-width="0.7" fill="none"/>
<path d="M247.40,495.73 L251.40,499.73 M251.40,495.73 L247.40,499.73" stroke="#70AD47" stroke-width="0.7" fill="none"/>
<path d="M288.25,491.66 L292.25,495.66 M292.25,491.66 L288.25,495.66" stroke="#70AD47" stroke-width="0.7" fill="none"/>
<path d="M329.10,487.13 L333.10,491.13 M333.10,487.13 L329.10,491.13" stroke="#70AD47" stroke-width="0.7" fill="none"/>
<path d="M369.95,473.99 L373.95,477.99 M373.95,473.99 L369.95,477.99" stroke="#70AD47" stroke-width="0.7" fill="none"/>
<text x="77.50" y="519.00" font-size="5.8" fill="#70AD47" stroke="#70AD47" stroke-width="0.18" text-anchor="middle" font-weight="normal" dominant-baseline="central" >-2.5</text>
<text x="123.30" y="505.50" font-size="5.8" fill="#70AD47" stroke="#70AD47" stroke-width="0.18" text-anchor="middle" font-weight="normal" dominant-baseline="central" >-0.7</text>
<text x="168.50" y="483.70" font-size="5.8" fill="#70AD47" stroke="#70AD47" stroke-width="0.18" text-anchor="middle" font-weight="normal" dominant-baseline="central" >3.9</text>
<text x="209.00" y="484.70" font-size="5.8" fill="#70AD47" stroke="#70AD47" stroke-width="0.18" text-anchor="middle" font-weight="normal" dominant-baseline="central" >3.8</text>
<text x="250.00" y="505.70" font-size="5.8" fill="#70AD47" stroke="#70AD47" stroke-width="0.18" text-anchor="middle" font-weight="normal" dominant-baseline="central" >2.2</text>
<text x="290.40" y="500.80" font-size="5.8" fill="#70AD47" stroke="#70AD47" stroke-width="0.18" text-anchor="middle" font-weight="normal" dominant-baseline="central" >3.1</text>
<text x="331.90" y="482.70" font-size="5.8" fill="#70AD47" stroke="#70AD47" stroke-width="0.18" text-anchor="middle" font-weight="normal" dominant-baseline="central" >4.1</text>
<text x="372.30" y="484.30" font-size="5.8" fill="#70AD47" stroke="#70AD47" stroke-width="0.18" text-anchor="middle" font-weight="normal" dominant-baseline="central" >7</text>
<line x1="210.8" y1="422.9" x2="224.2" y2="422.9" stroke="#4472C4" stroke-width="1.2"/>
<path d="M217.50,421.10 L219.30,422.90 L217.50,424.70 L215.70,422.90Z" fill="#4472C4"/>
<text x="224.9" y="422.9" font-size="6.6" fill="#595959" stroke="#595959" stroke-width="0.08" dominant-baseline="central" textLength="10.9" lengthAdjust="spacingAndGlyphs">Pain</text>
<line x1="244.4" y1="422.9" x2="256.9" y2="422.9" stroke="#ED7D31" stroke-width="1.2"/>
<rect x="248.95" y="421.20" width="3.4" height="3.4" fill="#ED7D31"/>
<text x="257.2" y="422.9" font-size="6.6" fill="#595959" stroke="#595959" stroke-width="0.08" dominant-baseline="central" textLength="20.5" lengthAdjust="spacingAndGlyphs">Fatigue</text>
<line x1="285.8" y1="422.9" x2="298.5" y2="422.9" stroke="#A5A5A5" stroke-width="1.2"/>
<path d="M292.15,421.00 L294.05,424.42 L290.25,424.42Z" fill="#A5A5A5"/>
<text x="298.8" y="422.9" font-size="6.6" fill="#595959" stroke="#595959" stroke-width="0.08" dominant-baseline="central" textLength="11.7" lengthAdjust="spacingAndGlyphs">GHS</text>
<line x1="318" y1="422.9" x2="331.2" y2="422.9" stroke="#70AD47" stroke-width="1.2"/>
<path d="M322.60,420.90 L326.60,424.90 M326.60,420.90 L322.60,424.90" stroke="#70AD47" stroke-width="0.7" fill="none"/>
<text x="331.4" y="422.9" font-size="6.6" fill="#595959" stroke="#595959" stroke-width="0.08" dominant-baseline="central" textLength="55.2" lengthAdjust="spacingAndGlyphs">Physical functioning</text>
<text x="55.30" y="627.40" font-size="5.9" fill="#404040" stroke="#404040" stroke-width="0.18" text-anchor="middle" font-weight="normal" dominant-baseline="central" >n</text>
<text x="84.10" y="627.40" font-size="5.4" fill="#4472C4" stroke="#4472C4" stroke-width="0" text-anchor="middle" font-weight="normal" dominant-baseline="central" >89</text>
<text x="124.95" y="627.40" font-size="5.4" fill="#4472C4" stroke="#4472C4" stroke-width="0" text-anchor="middle" font-weight="normal" dominant-baseline="central" >73</text>
<text x="165.80" y="627.40" font-size="5.4" fill="#4472C4" stroke="#4472C4" stroke-width="0" text-anchor="middle" font-weight="normal" dominant-baseline="central" >67</text>
<text x="206.65" y="627.40" font-size="5.4" fill="#4472C4" stroke="#4472C4" stroke-width="0" text-anchor="middle" font-weight="normal" dominant-baseline="central" >59</text>
<text x="247.50" y="627.40" font-size="5.4" fill="#4472C4" stroke="#4472C4" stroke-width="0" text-anchor="middle" font-weight="normal" dominant-baseline="central" >58</text>
<text x="288.35" y="627.40" font-size="5.4" fill="#4472C4" stroke="#4472C4" stroke-width="0" text-anchor="middle" font-weight="normal" dominant-baseline="central" >38</text>
<text x="329.20" y="627.40" font-size="5.4" fill="#4472C4" stroke="#4472C4" stroke-width="0" text-anchor="middle" font-weight="normal" dominant-baseline="central" >22</text>
<text x="370.05" y="627.40" font-size="5.4" fill="#4472C4" stroke="#4472C4" stroke-width="0" text-anchor="middle" font-weight="normal" dominant-baseline="central" >9</text>
<text x="84.10" y="638.40" font-size="5.4" fill="#ED7D31" stroke="#ED7D31" stroke-width="0" text-anchor="middle" font-weight="normal" dominant-baseline="central" >88</text>
<text x="124.95" y="638.40" font-size="5.4" fill="#ED7D31" stroke="#ED7D31" stroke-width="0" text-anchor="middle" font-weight="normal" dominant-baseline="central" >73</text>
<text x="165.80" y="638.40" font-size="5.4" fill="#ED7D31" stroke="#ED7D31" stroke-width="0" text-anchor="middle" font-weight="normal" dominant-baseline="central" >67</text>
<text x="206.65" y="638.40" font-size="5.4" fill="#ED7D31" stroke="#ED7D31" stroke-width="0" text-anchor="middle" font-weight="normal" dominant-baseline="central" >59</text>
<text x="247.50" y="638.40" font-size="5.4" fill="#ED7D31" stroke="#ED7D31" stroke-width="0" text-anchor="middle" font-weight="normal" dominant-baseline="central" >58</text>
<text x="288.35" y="638.40" font-size="5.4" fill="#ED7D31" stroke="#ED7D31" stroke-width="0" text-anchor="middle" font-weight="normal" dominant-baseline="central" >38</text>
<text x="329.20" y="638.40" font-size="5.4" fill="#ED7D31" stroke="#ED7D31" stroke-width="0" text-anchor="middle" font-weight="normal" dominant-baseline="central" >24</text>
<text x="370.05" y="638.40" font-size="5.4" fill="#ED7D31" stroke="#ED7D31" stroke-width="0" text-anchor="middle" font-weight="normal" dominant-baseline="central" >9</text>
<text x="84.10" y="649.30" font-size="5.4" fill="#A5A5A5" stroke="#A5A5A5" stroke-width="0" text-anchor="middle" font-weight="normal" dominant-baseline="central" >87</text>
<text x="124.95" y="649.30" font-size="5.4" fill="#A5A5A5" stroke="#A5A5A5" stroke-width="0" text-anchor="middle" font-weight="normal" dominant-baseline="central" >73</text>
<text x="165.80" y="649.30" font-size="5.4" fill="#A5A5A5" stroke="#A5A5A5" stroke-width="0" text-anchor="middle" font-weight="normal" dominant-baseline="central" >68</text>
<text x="206.65" y="649.30" font-size="5.4" fill="#A5A5A5" stroke="#A5A5A5" stroke-width="0" text-anchor="middle" font-weight="normal" dominant-baseline="central" >60</text>
<text x="247.50" y="649.30" font-size="5.4" fill="#A5A5A5" stroke="#A5A5A5" stroke-width="0" text-anchor="middle" font-weight="normal" dominant-baseline="central" >57</text>
<text x="288.35" y="649.30" font-size="5.4" fill="#A5A5A5" stroke="#A5A5A5" stroke-width="0" text-anchor="middle" font-weight="normal" dominant-baseline="central" >35</text>
<text x="329.20" y="649.30" font-size="5.4" fill="#A5A5A5" stroke="#A5A5A5" stroke-width="0" text-anchor="middle" font-weight="normal" dominant-baseline="central" >24</text>
<text x="370.05" y="649.30" font-size="5.4" fill="#A5A5A5" stroke="#A5A5A5" stroke-width="0" text-anchor="middle" font-weight="normal" dominant-baseline="central" >9</text>
<text x="84.10" y="659.20" font-size="5.4" fill="#70AD47" stroke="#70AD47" stroke-width="0" text-anchor="middle" font-weight="normal" dominant-baseline="central" >89</text>
<text x="124.95" y="659.20" font-size="5.4" fill="#70AD47" stroke="#70AD47" stroke-width="0" text-anchor="middle" font-weight="normal" dominant-baseline="central" >74</text>
<text x="165.80" y="659.20" font-size="5.4" fill="#70AD47" stroke="#70AD47" stroke-width="0" text-anchor="middle" font-weight="normal" dominant-baseline="central" >68</text>
<text x="206.65" y="659.20" font-size="5.4" fill="#70AD47" stroke="#70AD47" stroke-width="0" text-anchor="middle" font-weight="normal" dominant-baseline="central" >60</text>
<text x="247.50" y="659.20" font-size="5.4" fill="#70AD47" stroke="#70AD47" stroke-width="0" text-anchor="middle" font-weight="normal" dominant-baseline="central" >59</text>
<text x="288.35" y="659.20" font-size="5.4" fill="#70AD47" stroke="#70AD47" stroke-width="0" text-anchor="middle" font-weight="normal" dominant-baseline="central" >39</text>
<text x="329.20" y="659.20" font-size="5.4" fill="#70AD47" stroke="#70AD47" stroke-width="0" text-anchor="middle" font-weight="normal" dominant-baseline="central" >24</text>
<text x="370.05" y="659.20" font-size="5.4" fill="#70AD47" stroke="#70AD47" stroke-width="0" text-anchor="middle" font-weight="normal" dominant-baseline="central" >9</text>
<path d="M422.5,100.4 L445.7,124.3 L434.5,124.3 L434.5,209.8 L411.6,209.8 L411.6,124.3 L400,124.3 Z" fill="#fff" stroke="#7A7A7A" stroke-width="1.05" stroke-linejoin="miter"/>
<path d="M440.3,182.5 L463.6,182.5 L463.6,269.4 L474.5,269.4 L451.6,292.2 L428.6,269.4 L440.3,269.4 Z" fill="#fff" stroke="#7A7A7A" stroke-width="1.05" stroke-linejoin="miter"/>
<text x="0" y="0" font-size="6.6" text-anchor="middle" dominant-baseline="central" textLength="73.6" lengthAdjust="spacingAndGlyphs" transform="translate(428.7,161.4) rotate(90)"><tspan fill="#262626" stroke="#262626" stroke-width="0.18">Improvements in </tspan><tspan fill="#A5A5A5" stroke="#A5A5A5" stroke-width="0.18">GHS</tspan><tspan fill="#262626" stroke="#262626" stroke-width="0.18"> or</tspan></text>
<text x="0" y="0" font-size="6.6" text-anchor="middle" dominant-baseline="central" textLength="60.5" lengthAdjust="spacingAndGlyphs" transform="translate(419.3,161.0) rotate(90)"><tspan fill="#70AD47" stroke="#70AD47" stroke-width="0.18">physical functioning</tspan></text>
<text x="0" y="0" font-size="6.6" text-anchor="middle" dominant-baseline="central" textLength="76.4" lengthAdjust="spacingAndGlyphs" transform="translate(456.4,233.2) rotate(90)"><tspan fill="#262626" stroke="#262626" stroke-width="0.18">Improvements in </tspan><tspan fill="#4472C4" stroke="#4472C4" stroke-width="0.18">pain</tspan><tspan fill="#262626" stroke="#262626" stroke-width="0.18"> or</tspan></text>
<text x="0" y="0" font-size="6.6" text-anchor="middle" dominant-baseline="central" textLength="19.9" lengthAdjust="spacingAndGlyphs" transform="translate(447.9,231.6) rotate(90)"><tspan fill="#ED7D31" stroke="#ED7D31" stroke-width="0.18">fatigue</tspan></text>
<path d="M413.9,417.0 L434.0,439.1 L423.9,439.1 L423.9,522.8 L403.3,522.8 L403.3,439.1 L393.2,439.1 Z" fill="#fff" stroke="#7A7A7A" stroke-width="1.05" stroke-linejoin="miter"/>
<path d="M429.2,496.5 L450.0,496.5 L450.0,581.8 L460.8,581.8 L439.5,602.6 L418.8,581.8 L429.2,581.8 Z" fill="#fff" stroke="#7A7A7A" stroke-width="1.05" stroke-linejoin="miter"/>
<text x="0" y="0" font-size="6.6" text-anchor="middle" dominant-baseline="central" textLength="73.6" lengthAdjust="spacingAndGlyphs" transform="translate(418.6,475.4) rotate(90)"><tspan fill="#262626" stroke="#262626" stroke-width="0.18">Improvements in </tspan><tspan fill="#A5A5A5" stroke="#A5A5A5" stroke-width="0.18">GHS</tspan><tspan fill="#262626" stroke="#262626" stroke-width="0.18"> or</tspan></text>
<text x="0" y="0" font-size="6.6" text-anchor="middle" dominant-baseline="central" textLength="58.6" lengthAdjust="spacingAndGlyphs" transform="translate(409.6,475.4) rotate(90)"><tspan fill="#70AD47" stroke="#70AD47" stroke-width="0.18">physical functioning</tspan></text>
<text x="0" y="0" font-size="6.6" text-anchor="middle" dominant-baseline="central" textLength="75.0" lengthAdjust="spacingAndGlyphs" transform="translate(444.5,545.1) rotate(90)"><tspan fill="#262626" stroke="#262626" stroke-width="0.18">Improvements in </tspan><tspan fill="#4472C4" stroke="#4472C4" stroke-width="0.18">pain</tspan><tspan fill="#262626" stroke="#262626" stroke-width="0.18"> or</tspan></text>
<text x="0" y="0" font-size="6.6" text-anchor="middle" dominant-baseline="central" textLength="20.8" lengthAdjust="spacingAndGlyphs" transform="translate(435.6,544.0) rotate(90)"><tspan fill="#ED7D31" stroke="#ED7D31" stroke-width="0.18">fatigue</tspan></text>
<text x="20" y="693.8" font-size="7.8" fill="#1a1a1a"><tspan font-size="4.5" dy="-2.6">a</tspan><tspan dy="2.6">EORTC QLQ-C30 scores range from 0 to 100.</tspan></text>
<text x="19.6" y="707.4" font-size="7.8" fill="#1a1a1a" textLength="460.5" lengthAdjust="spacingAndGlyphs">C, cycle; EORTC QLQ-C30, European Organisation for Research and Treatment of Cancer quality of life questionnaire core 30; GHS,</text>
<text x="19.9" y="721.2" font-size="7.8" fill="#1a1a1a" textLength="323" lengthAdjust="spacingAndGlyphs">global health status; LS, least squares; QW, weekly; Q2W, every other week; tal, talquetamab.</text>
</svg>
</body></html>
